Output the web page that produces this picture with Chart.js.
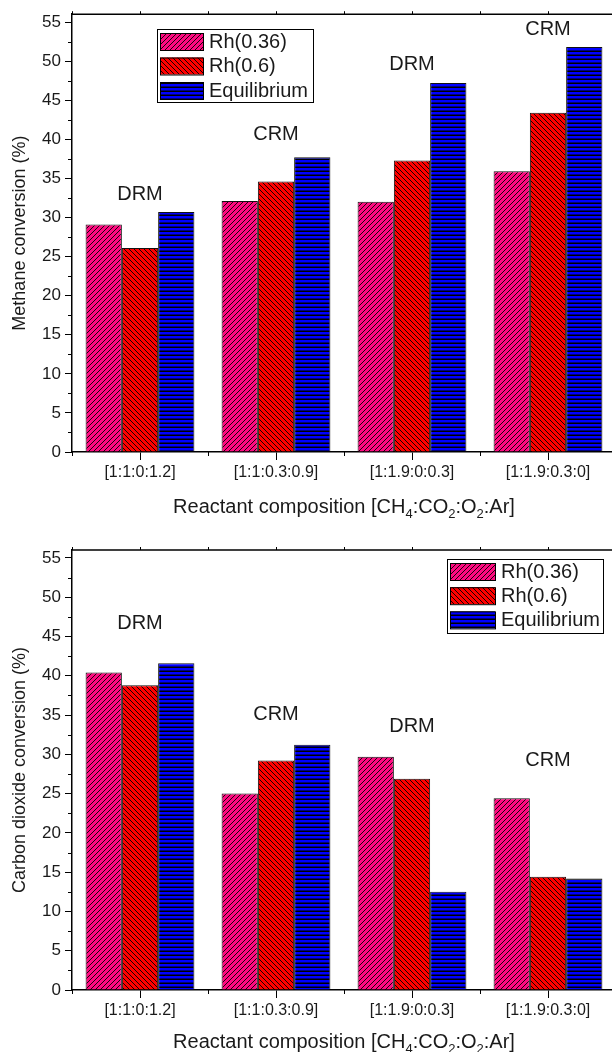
<!DOCTYPE html>
<html>
<head>
<meta charset="utf-8">
<title>Conversion charts</title>
<script src="https://cdn.jsdelivr.net/npm/chart.js@4/dist/chart.umd.min.js"></script>
<style>
    body { margin: 0; background: #fff; overflow: hidden; width: 612px; height: 1052px; position: relative; }
    .chartBox { position: absolute; left: 0; }
    #box1 { top: 0; }
    #box2 { top: 520px; }
</style>
</head>
<body>
<div class="chartBox" id="box1"><canvas id="methaneChart" width="620" height="520"></canvas></div>
<div class="chartBox" id="box2"><canvas id="co2Chart" width="620" height="532"></canvas></div>

<script>
// data
const categories = ['[1:1:0:1.2]', '[1:1:0.3:0.9]', '[1:1.9:0:0.3]', '[1:1.9:0.3:0]']
const seriesNames = ['Rh(0.36)', 'Rh(0.6)', 'Equilibrium']

const methaneRh036 = [29.1, 32.1, 32.0, 35.9]
const methaneRh06 = [26.1, 34.6, 37.3, 43.4]
const methaneEquil = [30.7, 37.7, 47.2, 51.8]

const co2Rh036 = [40.4, 25.0, 29.7, 24.4]
const co2Rh06 = [38.8, 29.2, 26.9, 14.4]
const co2Equil = [41.6, 31.2, 12.5, 14.2]

const processNames = ['DRM', 'CRM', 'DRM', 'CRM']
const methaneNameAt = [33.0, 40.6, 49.6, 54.1]
const co2NameAt = [46.6, 35.1, 33.5, 29.2]

const yTickValues = [0, 5, 10, 15, 20, 25, 30, 35, 40, 45, 50, 55]
const yMinorValues = [2.5, 7.5, 12.5, 17.5, 22.5, 27.5, 32.5, 37.5, 42.5, 47.5, 52.5]

const FONT = "'Liberation Sans', Arial, sans-serif"
const INK = '#1a1a1a'

// hatch fills like the origin plot
function makeHatch(bg, kind) {
    const c = document.createElement('canvas')
    const s = kind === 'h' ? 4 : 5
    c.width = s
    c.height = s
    const g = c.getContext('2d')
    g.fillStyle = bg
    g.fillRect(0, 0, s, s)
    g.strokeStyle = '#000'
    g.lineWidth = kind === 'h' ? 1.5 : 0.9
    g.beginPath()
    if (kind === 'h') {
        g.moveTo(0, 3.25)
        g.lineTo(s, 3.25)
    } else if (kind === '/') {
        g.moveTo(-1, s + 1); g.lineTo(s + 1, -1)
        g.moveTo(-1, 1); g.lineTo(1, -1)
        g.moveTo(s - 1, s + 1); g.lineTo(s + 1, s - 1)
    } else {
        g.moveTo(-1, -1); g.lineTo(s + 1, s + 1)
        g.moveTo(s - 1, -1); g.lineTo(s + 1, 1)
        g.moveTo(-1, s - 1); g.lineTo(1, s + 1)
    }
    g.stroke()
    return g.createPattern(c, 'repeat')
}

function fills() {
    return [makeHatch('#ff0a80', '/'), makeHatch('#ff0000', '\\'), makeHatch('#0000ff', 'h')]
}

// frame, minor ticks, process names, legend and x title with subscripts
const decorations = {
    id: 'decorations',
    afterDraw(chart, args, opts) {
        const ctx = chart.ctx
        const area = chart.chartArea
        const x = chart.scales.x
        const y = chart.scales.y
        ctx.save()
        ctx.strokeStyle = '#000'
        ctx.lineWidth = 1.5
        ctx.beginPath()
        ctx.moveTo(area.left, area.top)
        ctx.lineTo(area.right, area.top)
        ctx.lineTo(area.right, area.bottom)
        ctx.stroke()

        ctx.lineWidth = 1
        ctx.beginPath()
        yMinorValues.forEach(v => {
            const py = Math.round(y.getPixelForValue(v)) + 0.5
            ctx.moveTo(area.left - 4, py)
            ctx.lineTo(area.left, py)
        })
        for (let i = 0; i <= categories.length; i++) {
            const px = Math.round(x.getPixelForValue(i - 0.5)) + 0.5
            ctx.moveTo(px, area.bottom)
            ctx.lineTo(px, area.bottom + 4)
            ctx.moveTo(px, area.top)
            ctx.lineTo(px, area.top - 3)
            if (i < categories.length) {
                const cx = Math.round(x.getPixelForValue(i)) + 0.5
                ctx.moveTo(cx, area.top)
                ctx.lineTo(cx, area.top - 3)
            }
        }
        ctx.stroke()

        ctx.fillStyle = INK
        ctx.font = '20px ' + FONT
        ctx.textAlign = 'center'
        ctx.textBaseline = 'middle'
        processNames.forEach((name, i) => {
            ctx.fillText(name, x.getPixelForValue(i), y.getPixelForValue(opts.nameAt[i]))
        })

        // legend
        const lg = opts.legend
        ctx.lineWidth = 1
        ctx.strokeStyle = '#000'
        ctx.strokeRect(lg.x + 0.5, lg.y + 0.5, lg.w, lg.h)
        ctx.textAlign = 'left'
        chart.data.datasets.forEach((ds, i) => {
            const top = lg.y + 4 + i * lg.step
            ctx.fillStyle = ds.backgroundColor
            ctx.fillRect(lg.x + 3, top, lg.sw, 17)
            ctx.strokeRect(lg.x + 3.5, top + 0.5, lg.sw, 17)
            ctx.fillStyle = INK
            ctx.fillText(ds.label, lg.x + lg.sw + 9, top + 9)
        })

        // x axis title
        const parts = [['Reactant composition [CH', 0], ['4', 1], [':CO', 0], ['2', 1], [':O', 0], ['2', 1], [':Ar]', 0]]
        const big = '20px ' + FONT
        const small = '13px ' + FONT
        let total = 0
        parts.forEach(p => { ctx.font = p[1] ? small : big; total += ctx.measureText(p[0]).width })
        let px = (area.left + area.right) / 2 - total / 2
        ctx.textBaseline = 'alphabetic'
        parts.forEach(p => {
            ctx.font = p[1] ? small : big
            ctx.fillText(p[0], px, opts.titleBase + (p[1] ? 5 : 0))
            px += ctx.measureText(p[0]).width
        })
        ctx.restore()
    }
}

function makeChart(id, values, yTitle, plotTop, xHeight, nameAt, legend, titleBase) {
    const f = fills()
    return new Chart(document.getElementById(id), {
        type: 'bar',
        data: {
            labels: categories,
            datasets: values.map((v, i) => ({
                label: seriesNames[i],
                data: v,
                backgroundColor: f[i],
                borderColor: '#111',
                borderWidth: 1,
                categoryPercentage: 0.8,
                barPercentage: 1.0
            }))
        },
        options: {
            responsive: false,
            animation: false,
            events: [],
            layout: { padding: { top: plotTop, right: 4, left: 0, bottom: 0 } },
            plugins: {
                legend: { display: false },
                tooltip: { enabled: false },
                decorations: { nameAt: nameAt, legend: legend, titleBase: titleBase }
            },
            scales: {
                x: {
                    offset: true,
                    grid: { display: true, offset: false, drawOnChartArea: false, tickLength: 8, tickColor: '#000', tickWidth: 1 },
                    border: { display: true, color: '#000', width: 1.5 },
                    ticks: { color: INK, font: { family: FONT, size: 16 }, padding: 3, maxRotation: 0 },
                    afterFit: s => { s.height = xHeight }
                },
                y: {
                    min: 0,
                    max: 56,
                    afterBuildTicks: s => { s.ticks = yTickValues.map(v => ({ value: v })) },
                    grid: { display: true, drawOnChartArea: false, tickLength: 7, tickColor: '#000', tickWidth: 1 },
                    border: { display: true, color: '#000', width: 1.5 },
                    ticks: { color: INK, font: { family: FONT, size: 17 }, padding: 4 },
                    title: { display: true, text: yTitle, color: INK, font: { family: FONT, size: 18 }, padding: { top: 9, bottom: 0 } },
                    afterFit: s => { s.width = 72 }
                }
            }
        },
        plugins: [decorations]
    })
}

makeChart('methaneChart', [methaneRh036, methaneRh06, methaneEquil], 'Methane conversion (%)',
    12, 68, methaneNameAt, { x: 157, y: 29, w: 156, h: 73, sw: 43, step: 24.5 }, 513)

makeChart('co2Chart', [co2Rh036, co2Rh06, co2Equil], 'Carbon dioxide conversion (%)',
    30, 62, co2NameAt, { x: 447, y: 39, w: 156, h: 74, sw: 45, step: 24.2 }, 528)
</script>
</body>
</html>
